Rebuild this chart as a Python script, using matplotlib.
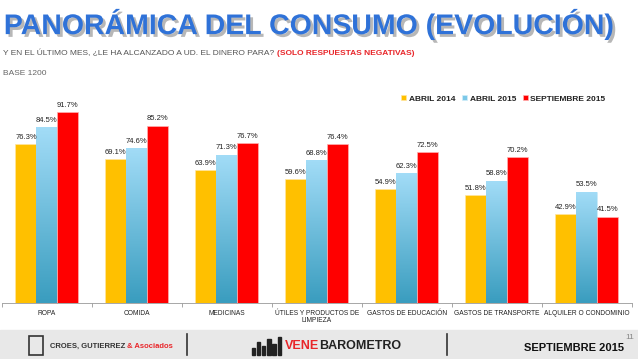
import matplotlib.pyplot as plt
import matplotlib.patheffects as pe
import numpy as np
from matplotlib.patches import Rectangle
from matplotlib.colors import LinearSegmentedColormap

categorias = ['ROPA', 'COMIDA', 'MEDICINAS', 'ÚTILES Y PRODUCTOS DE\nLIMPIEZA',
              'GASTOS DE EDUCACIÓN', 'GASTOS DE TRANSPORTE', 'ALQUILER O CONDOMINIO']
abril_2014 = [76.3, 69.1, 63.9, 59.6, 54.9, 51.8, 42.9]
abril_2015 = [84.5, 74.6, 71.3, 68.8, 62.3, 58.8, 53.5]
sept_2015 = [91.7, 85.2, 76.7, 76.4, 72.5, 70.2, 41.5]
series = ['ABRIL 2014', 'ABRIL 2015', 'SEPTIEMBRE 2015']

plt.rcParams['font.family'] = ['Liberation Sans', 'DejaVu Sans']

fig = plt.figure(figsize=(6.38, 3.59), dpi=100)
ax = fig.add_axes([0.003, 0.156, 0.987, 0.58])

x = np.arange(len(categorias))
w = 0.233
b1 = ax.bar(x - w, abril_2014, w, color='#ffc000', edgecolor='#ffe6a0', linewidth=0.5, label=series[0])
b2 = ax.bar(x, abril_2015, w, color='#7cc8e8', edgecolor='#d0eefa', linewidth=0.5, label=series[1])
b3 = ax.bar(x + w, sept_2015, w, color='#ff0000', edgecolor='#ffb0b0', linewidth=0.5, label=series[2])

# degradado en las barras azules
grad = np.linspace(0, 1, 100).reshape(-1, 1)
cmap = LinearSegmentedColormap.from_list('az', ['#3a9dbf', '#a2dcf7'])
for r in b2:
    x0, y0 = r.get_x(), r.get_y()
    im = ax.imshow(grad, cmap=cmap, origin='lower', aspect='auto',
                   extent=[x0, x0 + r.get_width(), y0, y0 + r.get_height()], zorder=2)
    im.set_clip_path(r)

for bars in (b1, b2, b3):
    for r in bars:
        ax.text(r.get_x() + r.get_width() / 2, r.get_height() + 1.5, f'{r.get_height():.1f}%',
                ha='center', va='bottom', fontsize=5.5, color='#222222')

ax.set_xlim(-0.5, len(categorias) - 0.5)
ax.set_ylim(0, 100)
ax.set_yticks([])
ax.set_xticks(x)
ax.set_xticklabels(categorias, fontsize=4.8, color='#222222', linespacing=1.1)
ax.tick_params(axis='x', length=0, pad=5)
ax.set_xticks(np.arange(len(categorias) + 1) - 0.5, minor=True)
ax.tick_params(axis='x', which='minor', length=3, color='#999999')
for s in ['top', 'right', 'left']:
    ax.spines[s].set_visible(False)
ax.spines['bottom'].set_color('#999999')
ax.spines['bottom'].set_linewidth(0.6)

leg = ax.legend(loc='upper right', bbox_to_anchor=(0.97, 1.035), ncol=3, frameon=False,
                fontsize=6, handlelength=0.6, handleheight=0.6, handletextpad=0.3,
                columnspacing=0.8)
for t in leg.get_texts():
    t.set_fontweight('bold')
    t.set_color('#222222')

# título
titulo = 'PANORÁMICA DEL CONSUMO (EVOLUCIÓN)'
fig.text(0.006, 0.905, titulo, fontsize=20.5, fontweight='bold', color='#2f72d8',
         path_effects=[pe.withSimplePatchShadow(offset=(2, -2), shadow_rgbFace='#888888', alpha=0.6)])
t1 = fig.text(0.005, 0.848, 'Y EN EL ÚLTIMO MES, ¿LE HA ALCANZADO A UD. EL DINERO PARA? ',
              fontsize=6, color='#555555')
fig.canvas.draw()
bb = t1.get_window_extent().transformed(fig.transFigure.inverted())
fig.text(bb.x1, 0.848, '(SOLO RESPUESTAS NEGATIVAS)', fontsize=6, fontweight='bold', color='#e8262a')
fig.text(0.005, 0.79, 'BASE 1200', fontsize=6, color='#666666')

# pie de página
fig.patches.append(Rectangle((0, 0), 1, 0.082, transform=fig.transFigure, color='#e8e8e8', zorder=0))
fig.patches.append(Rectangle((0.045, 0.01), 0.022, 0.055, transform=fig.transFigure,
                             fill=False, edgecolor='#333333', linewidth=1.2))
c1 = fig.text(0.078, 0.035, 'CROES, GUTIERREZ ', fontsize=5.5, fontweight='bold', color='#333333',
              va='center')
fig.canvas.draw()
bb = c1.get_window_extent().transformed(fig.transFigure.inverted())
fig.text(bb.x1, 0.035, '& Asociados', fontsize=5.5, fontweight='bold', color='#e8262a', va='center')
fig.add_artist(plt.Line2D([0.293, 0.293], [0.01, 0.07], transform=fig.transFigure, color='#333333', lw=1.2))
fig.add_artist(plt.Line2D([0.70, 0.70], [0.01, 0.07], transform=fig.transFigure, color='#333333', lw=1.2))
for i, h in enumerate([0.02, 0.035, 0.025, 0.045, 0.03, 0.05]):
    fig.patches.append(Rectangle((0.395 + i * 0.008, 0.012), 0.005, h, transform=fig.transFigure,
                                 color='#222222'))
v1 = fig.text(0.447, 0.035, 'VENE', fontsize=9, fontweight='bold', color='#e8262a', va='center')
fig.canvas.draw()
bb = v1.get_window_extent().transformed(fig.transFigure.inverted())
fig.text(bb.x1, 0.035, 'BAROMETRO', fontsize=9, fontweight='bold', color='#222222', va='center')
fig.text(0.9, 0.03, 'SEPTIEMBRE 2015', fontsize=8, fontweight='bold', color='#111111',
         va='center', ha='center')
fig.text(0.987, 0.06, '11', fontsize=6, color='#888888', ha='center', va='center')

fig.savefig('out.png', dpi=100)
